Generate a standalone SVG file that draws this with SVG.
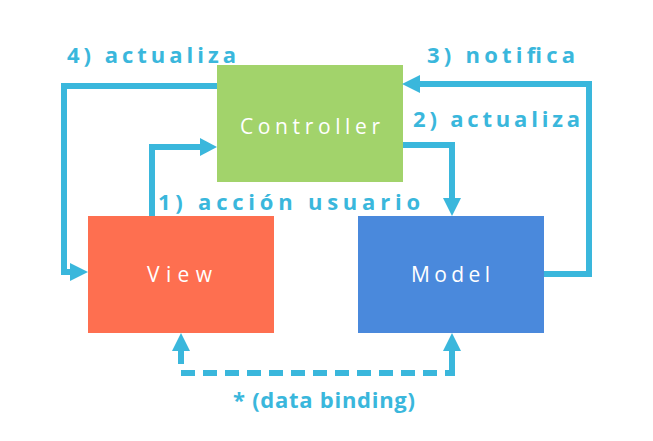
<svg xmlns="http://www.w3.org/2000/svg" width="653" height="441" viewBox="0 0 653 441">
<defs>
<style>
.box text{font-family:"Open Sans","Liberation Sans",sans-serif;font-size:21px;fill:#ffffff}
.lbl{font-family:"Open Sans","Liberation Sans",sans-serif;font-weight:bold;font-size:22px;fill:#3ab7dc}
.ln{fill:none;stroke:#3ab7dc;stroke-width:6}
.ah{fill:#3ab7dc}
</style>
</defs>
<rect width="653" height="441" fill="#ffffff"/>
<g id="controller" class="box"><rect x="217" y="65" width="186" height="117" fill="#a2d36b"/><text x="240" y="134" textLength="140" lengthAdjust="spacing">Controller</text></g>
<g id="view" class="box"><rect x="88" y="216" width="186" height="117" fill="#fe6f50"/><text x="147" y="282" textLength="65" lengthAdjust="spacing">View</text></g>
<g id="model" class="box"><rect x="358" y="216" width="186" height="117" fill="#4a89dc"/><text x="411" y="282" textLength="79" lengthAdjust="spacing">Model</text></g>
<g id="connectors">
<polyline class="ln" points="217,86 64,86 64,272 72,272"/>
<polygon class="ah" points="88,272 70,263 70,281"/>
<polyline class="ln" points="152,216 152,147 203,147"/>
<polygon class="ah" points="217,147 200,138 200,156"/>
<polyline class="ln" points="403,145 452,145 452,200"/>
<polygon class="ah" points="452,216 443,198 461,198"/>
<polyline class="ln" points="544,274 589,274 589,84 418,84"/>
<polygon class="ah" points="402,84 420,75 420,93"/>
<polygon class="ah" points="181,333 172,351 190,351"/>
<polyline class="ln" points="181,349 181,364"/>
<polygon class="ah" points="452,333 443,351 461,351"/>
<polyline class="ln" points="452,349 452,364"/>
<polyline class="ln" points="181,373 452,373" stroke-dasharray="14 8"/>
<polyline class="ln" points="452,364 452,376"/>
</g>
<text class="lbl" x="67" y="63" textLength="169" lengthAdjust="spacing">4) actualiza</text>
<text class="lbl" x="427" y="63" textLength="148" lengthAdjust="spacing">3) notifica</text>
<text class="lbl" x="413" y="127" textLength="167" lengthAdjust="spacing">2) actualiza</text>
<text class="lbl" x="158" y="210" textLength="262" lengthAdjust="spacing">1) acción usuario</text>
<text class="lbl" x="233" y="408" textLength="182" lengthAdjust="spacing">* (data binding)</text>
</svg>
